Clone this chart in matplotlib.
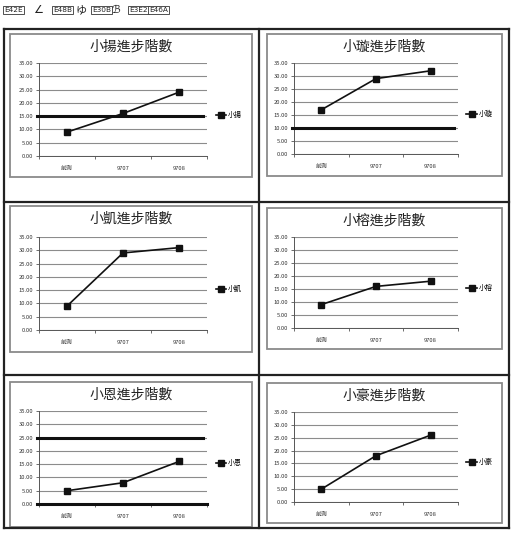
import matplotlib
matplotlib.use('Agg')
import matplotlib.pyplot as plt
from matplotlib.lines import Line2D
from matplotlib.patches import Rectangle

plt.rcParams['font.family'] = ['Noto Sans CJK TC', 'DejaVu Sans']

# data
names = ['小揚', '小璇', '小凱', '小榕', '小恩', '小豪']
categories = ['前測', '9707', '9708']
scores = [
    [9, 16, 24],
    [17, 29, 32],
    [9, 29, 31],
    [9, 16, 18],
    [5, 8, 16],
    [5, 18, 26],
]
goals = [15, 10, None, None, 25, None]
yticks = [0, 5, 10, 15, 20, 25, 30, 35]
header = ['E42E', '∠', 'E48B', 'ゆ', 'E30B', 'ℬ', 'E3E2', 'E46A']

W, H = 514, 533
fig = plt.figure(figsize=(W / 100, H / 100), dpi=100)
fig.patch.set_facecolor('white')


def fx(x):
    return x / W


def fy(y):
    return 1 - y / H


def fig_line(x0, y0, x1, y1, lw=1.6, color='#222222'):
    fig.add_artist(Line2D([fx(x0), fx(x1)], [fy(y0), fy(y1)],
                          transform=fig.transFigure, color=color, lw=lw))


# table grid around the charts
fig_line(4, 29, 509, 29)
fig_line(4, 528, 509, 528)
fig_line(4, 29, 4, 528)
fig_line(509, 29, 509, 528)
fig_line(259, 29, 259, 528)
fig_line(4, 202, 509, 202)
fig_line(4, 375, 509, 375)

# header line of unknown glyphs
hx = [4, 33, 53, 76, 92, 112, 129, 149]
for x, t in zip(hx, header):
    boxed = t.startswith('E')
    fig.text(fx(x), fy(10), t, fontsize=5.3 if boxed else 8, va='center', ha='left',
             family=['DejaVu Sans', 'Noto Sans CJK TC'], color='#222222',
             bbox=dict(boxstyle='square,pad=0.2', fc='white', ec='#333333', lw=0.6) if boxed else None)

# chart box (l, t, r, b) and plot area (l, t, r, b) in pixels
boxes = [
    (10, 34, 252, 177),
    (267, 34, 502, 176),
    (10, 206, 252, 352),
    (267, 208, 502, 349),
    (10, 382, 252, 527),
    (267, 383, 502, 523),
]
plots = [
    (39, 63, 207, 156),
    (294, 63, 458, 154),
    (39, 237, 207, 330),
    (294, 237, 458, 328),
    (39, 411, 207, 504),
    (294, 412, 458, 502),
]

for i, name in enumerate(names):
    bl, bt, br, bb = boxes[i]
    fig.add_artist(Rectangle((fx(bl), fy(bb)), fx(br - bl), (bb - bt) / H,
                             transform=fig.transFigure, fill=False,
                             ec='#8a8a8a', lw=1.3))
    fig.text(fx((bl + br) / 2), fy(bt + 13), name + '進步階數',
             fontsize=10, ha='center', va='center', color='#222222')

    l, t, r, b = plots[i]
    ax = fig.add_axes([fx(l), fy(b), fx(r - l), (b - t) / H])
    ax.set_xlim(0, 3)
    ax.set_ylim(0, 35)
    ax.set_yticks(yticks)
    ax.set_yticklabels(['%.2f' % v for v in yticks])
    ax.yaxis.grid(True, color='#8c8c8c', lw=0.8)
    ax.set_axisbelow(True)
    for s in ['top', 'right']:
        ax.spines[s].set_visible(False)
    ax.spines['left'].set_color('#555555')
    ax.spines['left'].set_linewidth(0.7)
    ax.spines['bottom'].set_color('#555555')
    ax.spines['bottom'].set_linewidth(0.7)
    ax.set_xticks([0, 1, 2, 3])
    ax.set_xticklabels([])
    ax.set_xticks([0.5, 1.5, 2.5], minor=True)
    ax.set_xticklabels(categories, minor=True)
    ax.tick_params(axis='x', which='major', length=2.5, width=0.6, color='#555555')
    ax.tick_params(axis='x', which='minor', length=0, labelsize=4.2, pad=7, colors='#333333')
    ax.tick_params(axis='y', length=2, width=0.6, color='#555555', labelsize=4.2,
                   pad=2, labelcolor='#333333')

    ax.plot([0.5, 1.5, 2.5], scores[i], color='#111111', lw=1.2, marker='s',
            ms=4.3, label=name, clip_on=False, zorder=5)
    if goals[i] is not None:
        ax.plot([-0.03, 2.93], [goals[i], goals[i]], color='#111111', lw=2.2,
                clip_on=False, zorder=4)
    if name == '小恩':
        ax.plot([-0.03, 3.0], [0, 0], color='#111111', lw=2.2, clip_on=False, zorder=4)

    ax.legend(loc='center left', bbox_to_anchor=(1.03, 0.44), frameon=False,
              fontsize=5, handlelength=1.5, handletextpad=0.3, borderpad=0)

fig.savefig('out.png', dpi=100)
